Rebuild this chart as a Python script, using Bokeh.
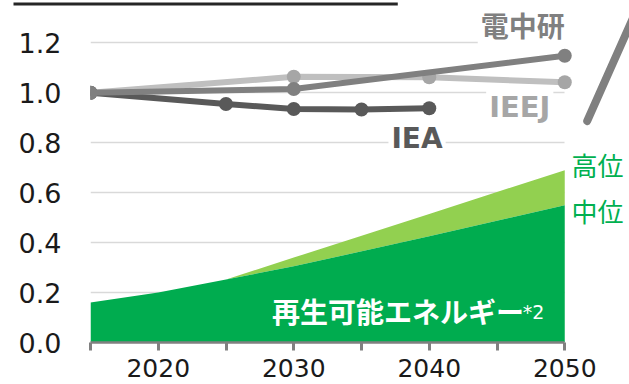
from bokeh.plotting import figure
from bokeh.models import Range1d, FixedTicker, NumeralTickFormatter, Label, Title
from bokeh.embed import file_html
from bokeh.resources import INLINE

# ---- data ----
iea_years = [2015, 2025, 2030, 2035, 2040]
iea_vals = [1.0, 0.955, 0.935, 0.933, 0.938]
criepi_years = [2015, 2030, 2050]
criepi_vals = [1.0, 1.015, 1.148]
ieej_years = [2015, 2030, 2040, 2050]
ieej_vals = [1.0, 1.064, 1.062, 1.042]
re_years = [2015, 2020, 2025, 2030, 2040, 2050]
re_mid = [0.16, 0.20, 0.252, 0.305, 0.425, 0.55]
re_high = [0.16, 0.20, 0.252, 0.34, 0.515, 0.69]
x_major = [2020, 2030, 2040, 2050]
x_minor = [2015, 2025, 2035, 2045]
y_ticks = [0.0, 0.2, 0.4, 0.6, 0.8, 1.0, 1.2]
grid_ticks = [0.2, 0.4, 0.6, 0.8, 1.0, 1.2]

# decorative stroke at right edge (data coords beyond 2050)
deco_x = [2051.66, 2056.5]
deco_y = [0.887, 1.478]

PX_PER_YEAR = 13.55
PX_PER_UNIT = 249.75
FRAME_W = 539
FRAME_H = 337

p = figure(width=629, height=384,
           x_range=Range1d(2015, 2015 + FRAME_W / PX_PER_YEAR),
           y_range=Range1d(0, FRAME_H / PX_PER_UNIT),
           output_backend="svg", toolbar_location=None,
           min_border_left=90, min_border_right=0, min_border_top=0,
           min_border_bottom=42)
p.outline_line_color = None
p.background_fill_color = "white"
p.border_fill_color = "white"

# top rule: an empty title box drawn as a dark bar above the frame
p.title = Title(text="\u00a0", text_font_size="1px", align="left", offset=-77,
                standoff=0, background_fill_color="#262626", padding=(192, 1))

# axes
xa = p.xaxis[0]
xa.ticker = FixedTicker(ticks=x_major, minor_ticks=x_minor)
xa.bounds = (2015, 2050)
xa.axis_line_color = "#808080"
xa.axis_line_width = 2.5
xa.major_tick_in = 0
xa.major_tick_out = 8
xa.minor_tick_in = 0
xa.minor_tick_out = 8
xa.major_tick_line_color = "#808080"
xa.minor_tick_line_color = "#808080"
xa.major_tick_line_width = 3
xa.minor_tick_line_width = 3
xa.major_label_text_font = "DejaVu Sans"
xa.major_label_text_font_size = "25px"
xa.major_label_text_color = "#1a1a1a"
xa.major_label_standoff = 8

ya = p.yaxis[0]
ya.ticker = FixedTicker(ticks=y_ticks)
ya.formatter = NumeralTickFormatter(format="0.0")
ya.axis_line_color = None
ya.major_tick_line_color = None
ya.minor_tick_line_color = None
ya.major_label_text_font = "DejaVu Sans"
ya.major_label_text_font_size = "27px"
ya.major_label_text_color = "#1a1a1a"
ya.major_label_standoff = 23

p.xgrid.visible = False
p.ygrid.ticker = FixedTicker(ticks=grid_ticks)
p.ygrid.grid_line_color = "#d9d9d9"
p.ygrid.grid_line_width = 1.5
p.ygrid.cross_bounds = (2015, 2050)

# areas
p.varea(x=re_years, y1=re_mid, y2=re_high, fill_color="#92d050")
p.varea(x=re_years, y1=0, y2=re_mid, fill_color="#00ac4f")

# lines
p.line(ieej_years, ieej_vals, line_width=6, line_color="#bfbfbf")
p.scatter(ieej_years, ieej_vals, size=14, fill_color="#a6a6a6", line_color=None)
p.line(iea_years, iea_vals, line_width=6, line_color="#595959")
p.scatter(iea_years, iea_vals, size=14, fill_color="#595959", line_color=None)
p.line(criepi_years, criepi_vals, line_width=6, line_color="#808080")
p.scatter(criepi_years, criepi_vals, size=14, fill_color="#808080", line_color=None)

# decorative stroke
p.line(deco_x, deco_y, line_width=8, line_color="#808080", line_cap="round")

# labels
def lab(x, y, text, color, size, font, style="normal", align="left", bg=None):
    kw = dict(x=x, y=y, text=text, text_color=color, text_font_size=size,
              text_font=font, text_font_style=style, text_align=align,
              text_baseline="alphabetic")
    if bg:
        kw.update(background_fill_color=bg, padding=3)
    p.add_layout(Label(**kw))

lab(2050.22, 1.272, "電中研", "#808080", "28px", "Noto Sans CJK JP", "bold", "right", "white")
lab(2044.2, 0.944, "IEEJ", "#a6a6a6", "29px", "DejaVu Sans", "bold", "left", "white")
lab(2039.1, 0.818, "IEA", "#595959", "28px", "DejaVu Sans", "bold", "center", "white")
lab(2050.5, 0.713, "高位", "#00b050", "26px", "Noto Sans CJK JP")
lab(2050.5, 0.527, "中位", "#00b050", "26px", "Noto Sans CJK JP")
lab(2028.4, 0.125, "再生可能エネルギー", "white", "28px", "Noto Sans CJK JP", "bold")
lab(2046.9, 0.122, "*2", "white", "19px", "DejaVu Sans")

open("out.html", "w").write(file_html(p, INLINE))
